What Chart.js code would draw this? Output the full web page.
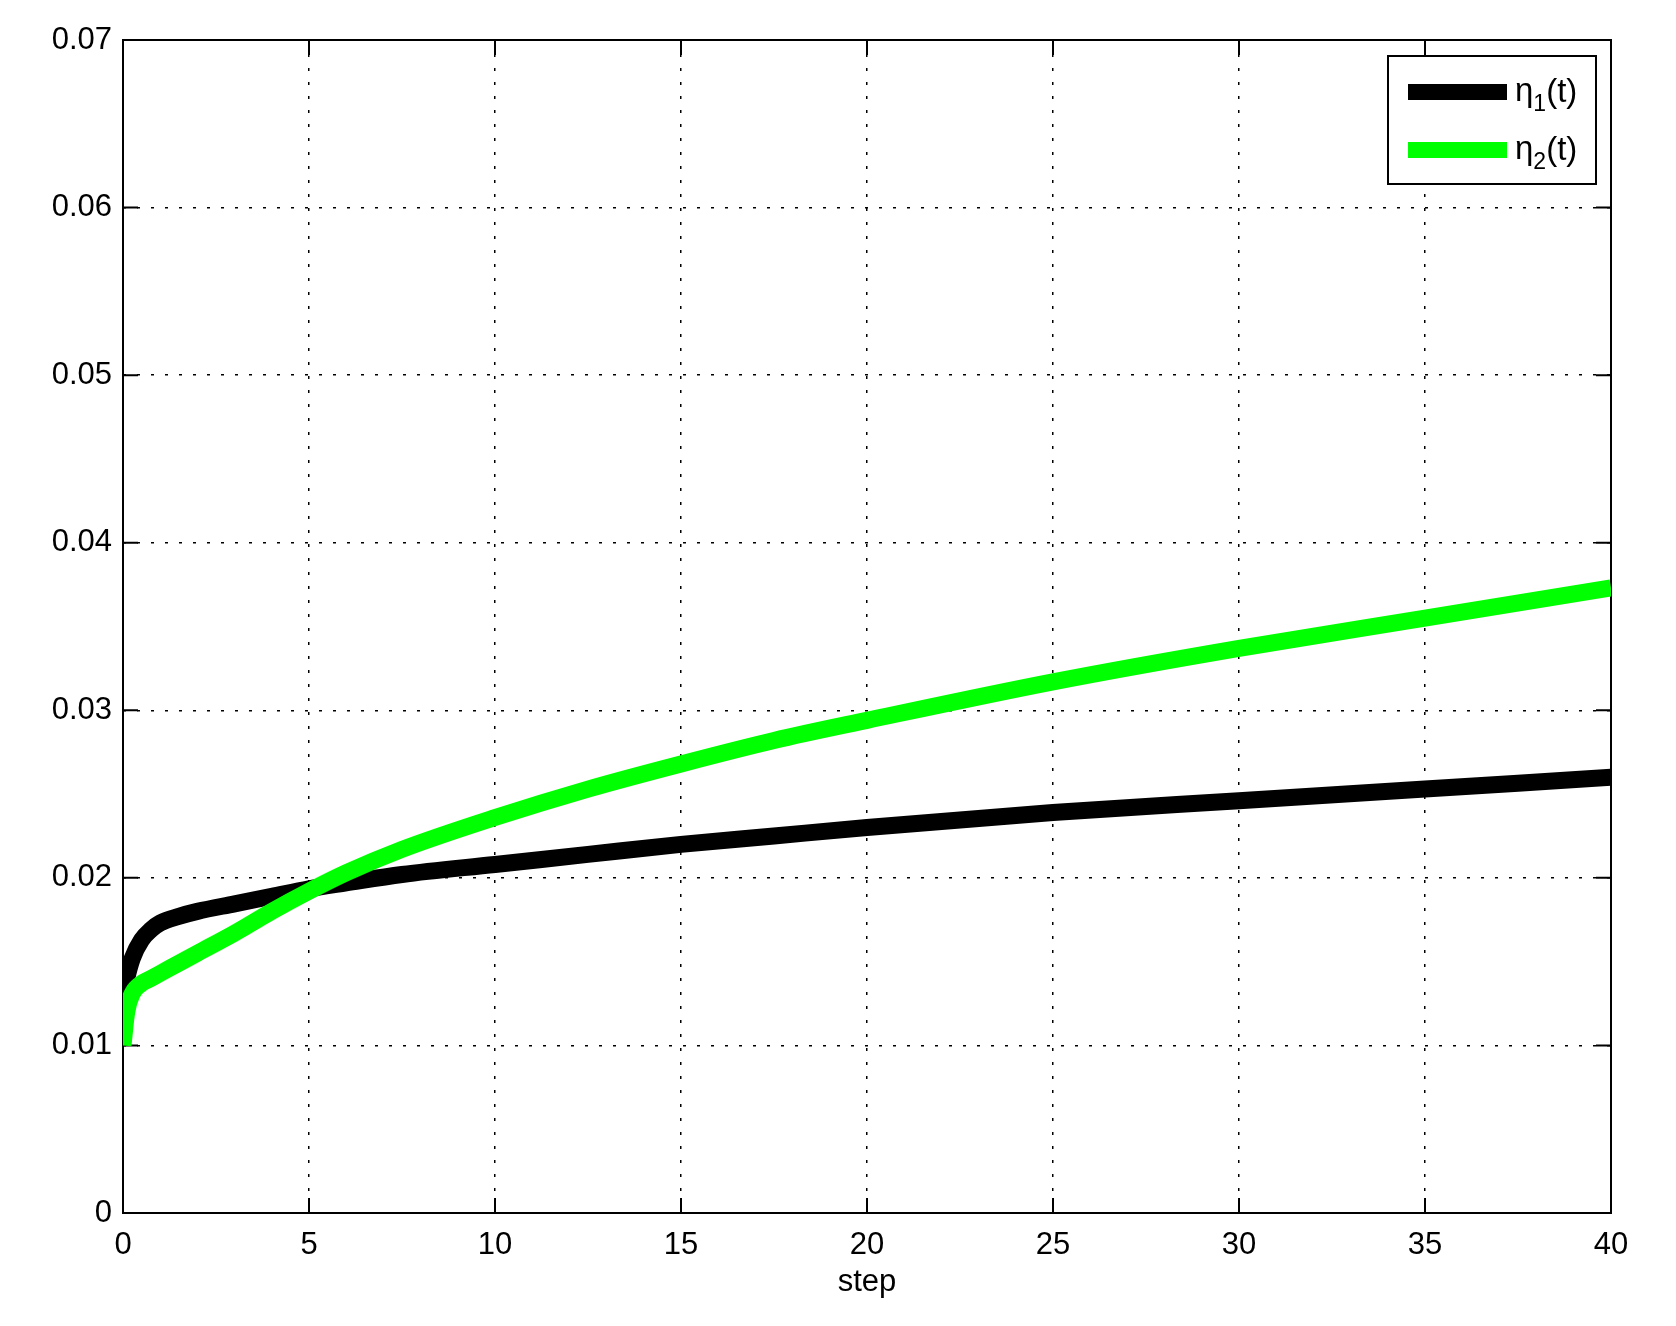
<!DOCTYPE html>
<html lang="en">
<head>
    <meta charset="UTF-8">
    <title>eta</title>
    <style>
        body { margin: 0; background: #fff; }
    </style>
</head>
<body>
<canvas id="myChart" width="1676" height="1326"></canvas>

<script src="https://cdn.jsdelivr.net/npm/chart.js"></script>

<script>

    // step values (x) and the two curves
    const steps = [0, 0.1, 0.25, 0.5, 0.75, 1, 1.5, 2, 3, 4, 5, 6, 7.5, 10, 12.5, 15, 17.5, 20, 25, 30, 35, 40];
    const eta1 = [0.0128, 0.0140, 0.0152, 0.0163, 0.0169, 0.0173, 0.0177, 0.0180, 0.01845, 0.0189, 0.01935, 0.0197, 0.0202, 0.0208, 0.0214, 0.0220, 0.0225, 0.0230, 0.0239, 0.0246, 0.0253, 0.0260];
    const eta2 = [0.0100, 0.0120, 0.0131, 0.0137, 0.0140, 0.0143, 0.0149, 0.0155, 0.0167, 0.0180, 0.0192, 0.0203, 0.0217, 0.0236, 0.0253, 0.0268, 0.0282, 0.0294, 0.0317, 0.0337, 0.0355, 0.0373];
    const seriesLabels = ['η_1(t)', 'η_2(t)'];
    const seriesColors = ['#000000', '#00ff00'];

    const FONT = '"Liberation Sans", Arial, Helvetica, sans-serif';

    function toPoints(ys) {
        return steps.map((x, i) => ({x: x, y: ys[i]}));
    }

    // frame + inward tick marks on all four sides, like the original
    const framePlugin = {
        id: 'frame',
        beforeDatasetsDraw(chart) {
            const {ctx, chartArea: a, scales} = chart;
            const len = 15;
            ctx.save();
            ctx.strokeStyle = '#000';
            ctx.lineWidth = 2;
            ctx.beginPath();
            scales.x.ticks.forEach(t => {
                const px = scales.x.getPixelForValue(t.value);
                ctx.moveTo(px, a.bottom); ctx.lineTo(px, a.bottom - len);
                ctx.moveTo(px, a.top); ctx.lineTo(px, a.top + len);
            });
            scales.y.ticks.forEach(t => {
                const py = scales.y.getPixelForValue(t.value);
                ctx.moveTo(a.left, py); ctx.lineTo(a.left + len, py);
                ctx.moveTo(a.right, py); ctx.lineTo(a.right - len, py);
            });
            ctx.stroke();
            ctx.strokeRect(a.left, a.top, a.right - a.left, a.bottom - a.top);
            ctx.restore();
        }
    };

    // legend box with subscripted labels
    const legendPlugin = {
        id: 'subLegend',
        afterDatasetsDraw(chart) {
            const {ctx, chartArea: a} = chart;
            const boxRight = a.right - 15;
            const boxLeft = boxRight - 208;
            const boxTop = a.top + 16;
            const boxH = 128;
            ctx.save();
            ctx.fillStyle = '#fff';
            ctx.fillRect(boxLeft, boxTop, boxRight - boxLeft, boxH);
            ctx.strokeStyle = '#000';
            ctx.lineWidth = 2;
            ctx.strokeRect(boxLeft, boxTop, boxRight - boxLeft, boxH);

            chart.data.datasets.forEach((ds, i) => {
                const y = boxTop + 36 + i * 58;
                ctx.strokeStyle = ds.borderColor;
                ctx.lineWidth = 16;
                ctx.lineCap = 'butt';
                ctx.beginPath();
                ctx.moveTo(boxLeft + 20, y);
                ctx.lineTo(boxLeft + 119, y);
                ctx.stroke();

                const parts = ds.label.split('_');
                const base = parts[0];
                const sub = parts[1].charAt(0);
                const rest = parts[1].slice(1);
                ctx.fillStyle = '#000';
                ctx.textBaseline = 'alphabetic';
                ctx.textAlign = 'left';
                let x = boxLeft + 127;
                ctx.font = '33px ' + FONT;
                ctx.fillText(base, x, y + 9);
                x += ctx.measureText(base).width;
                ctx.font = '23px ' + FONT;
                ctx.fillText(sub, x, y + 19);
                x += ctx.measureText(sub).width;
                ctx.font = '33px ' + FONT;
                ctx.fillText(rest, x, y + 10);
            });
            ctx.restore();
        }
    };

    const data = {
        datasets: [{
            label: seriesLabels[0],
            data: toPoints(eta1),
            borderColor: seriesColors[0],
            order: 1
        }, {
            label: seriesLabels[1],
            data: toPoints(eta2),
            borderColor: seriesColors[1],
            order: 0
        }]
    };

    const config = {
        type: 'line',
        data: data,
        options: {
            responsive: false,
            animation: false,
            layout: {
                padding: {left: 0, top: 40, right: 65, bottom: 0}
            },
            elements: {
                point: {radius: 0},
                line: {
                    borderWidth: 17,
                    cubicInterpolationMode: 'monotone',
                    borderCapStyle: 'butt',
                    borderJoinStyle: 'round',
                    fill: false
                }
            },
            datasets: {
                line: {clip: 0}
            },
            plugins: {
                legend: false,
                tooltip: false
            },
            scales: {
                x: {
                    type: 'linear',
                    min: 0,
                    max: 40,
                    afterFit(scale) { scale.height = 113; },
                    ticks: {
                        stepSize: 5,
                        color: '#000',
                        padding: 14,
                        maxRotation: 0,
                        font: {family: FONT, size: 31}
                    },
                    grid: {
                        color: '#000',
                        lineWidth: 1.5,
                        drawTicks: false
                    },
                    border: {display: false, dash: [3, 11]},
                    title: {
                        display: true,
                        text: 'step',
                        color: '#000',
                        font: {family: FONT, size: 31},
                        padding: {top: 0, bottom: 25}
                    }
                },
                y: {
                    type: 'linear',
                    min: 0,
                    max: 0.07,
                    afterFit(scale) { scale.width = 123; },
                    ticks: {
                        stepSize: 0.01,
                        color: '#000',
                        padding: 11,
                        font: {family: FONT, size: 31},
                        callback: v => v === 0 ? '0' : v.toFixed(2)
                    },
                    grid: {
                        color: '#000',
                        lineWidth: 1.5,
                        drawTicks: false
                    },
                    border: {display: false, dash: [3, 11]}
                }
            }
        },
        plugins: [framePlugin, legendPlugin]
    };

    const chart = new Chart(document.getElementById('myChart').getContext('2d'), config);

</script>

</body>
</html>
